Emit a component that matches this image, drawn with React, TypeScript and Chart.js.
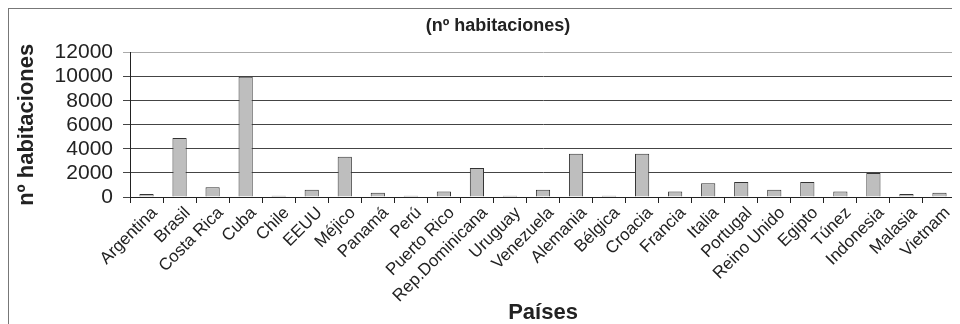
import React, { useEffect, useRef } from "react";
import { Chart, registerables } from "chart.js";

Chart.register(...registerables);

const categories = [
  "Argentina", "Brasil", "Costa Rica", "Cuba", "Chile", "EEUU", "Méjico", "Panamá", "Perú",
  "Puerto Rico", "Rep.Dominicana", "Uruguay", "Venezuela", "Alemania", "Bélgica", "Croacia",
  "Francia", "Italia", "Portugal", "Reino Unido", "Egipto", "Túnez", "Indonesia", "Malasia", "Vietnam",
];

const habitaciones = [
  250, 4900, 800, 10000, 100, 600, 3350, 350, 100,
  450, 2400, 100, 600, 3600, 100, 3600,
  450, 1150, 1250, 600, 1250, 450, 2000, 250, 350,
];

const yTicks = [0, 2000, 4000, 6000, 8000, 10000, 12000];

const chartTitle = "(nº habitaciones)";
const yTitle = "nº habitaciones";
const xTitle = "Países";

const FONT = "'Liberation Sans', Arial, sans-serif";

const frameRight = {
  id: "frameRight",
  afterDraw(chart: any) {
    const { ctx, chartArea } = chart;
    ctx.save();
    ctx.strokeStyle = "#aaa";
    ctx.lineWidth = 1;
    ctx.beginPath();
    ctx.moveTo(Math.round(chartArea.right) + 0.5, chartArea.top);
    ctx.lineTo(Math.round(chartArea.right) + 0.5, chartArea.bottom);
    ctx.stroke();
    ctx.restore();
  },
};

export default function App() {
  const ref = useRef<HTMLCanvasElement | null>(null);

  useEffect(() => {
    if (!ref.current) return;
    const chart = new Chart(ref.current, {
      type: "bar",
      data: {
        labels: categories,
        datasets: [
          {
            data: habitaciones,
            backgroundColor: "#bebebe",
            borderColor: "#333",
            borderWidth: 1,
            barPercentage: 0.43,
            categoryPercentage: 1,
          },
        ],
      },
      options: {
        animation: false,
        responsive: false,
        layout: { padding: { left: 31, right: 4, top: 0, bottom: 0 } },
        plugins: {
          legend: { display: false },
          tooltip: { enabled: false },
          title: {
            display: true,
            text: chartTitle,
            color: "#222",
            font: { family: FONT, size: 18, weight: "bold" },
            padding: { top: 6, bottom: 16 },
          },
        },
        scales: {
          x: {
            offset: true,
            grid: {
              offset: true,
              drawOnChartArea: false,
              tickLength: 6,
              color: "#222",
            },
            border: { color: "#222" },
            ticks: {
              color: "#222",
              font: { family: FONT, size: 17 },
              minRotation: 45,
              maxRotation: 45,
              autoSkip: false,
              labelOffset: 8,
              padding: 0,
            },
            title: {
              display: true,
              text: xTitle,
              color: "#222",
              font: { family: FONT, size: 22, weight: "bold" },
              padding: { top: 0, bottom: -2 },
            },
            afterFit(scale: any) {
              scale.height = 127;
            },
          },
          y: {
            min: 0,
            max: 12000,
            afterBuildTicks(scale: any) {
              scale.ticks = yTicks.map((v) => ({ value: v }));
            },
            grid: {
              color: (c: any) => (c.tick && c.tick.value === 12000 ? "#aaa" : "#444"),
              tickLength: 7,
            },
            border: { color: "#222" },
            ticks: {
              color: "#222",
              font: { family: FONT, size: 21 },
              padding: 10,
              autoSkip: false,
              callback: (v: any) => String(v),
            },
            title: {
              display: true,
              text: yTitle,
              color: "#222",
              font: { family: FONT, size: 22, weight: "bold" },
              padding: { top: -26, bottom: 0 },
            },
            afterFit(scale: any) {
              scale.width = 90;
            },
          },
        },
      },
      plugins: [frameRight],
    });
    return () => chart.destroy();
  }, []);

  return (
    <div
      style={{
        width: 951,
        height: 315,
        borderTop: "1px solid #777",
        borderLeft: "1px solid #777",
        background: "#fff",
      }}
    >
      <canvas ref={ref} width={951} height={315} style={{ display: "block" }} />
    </div>
  );
}
